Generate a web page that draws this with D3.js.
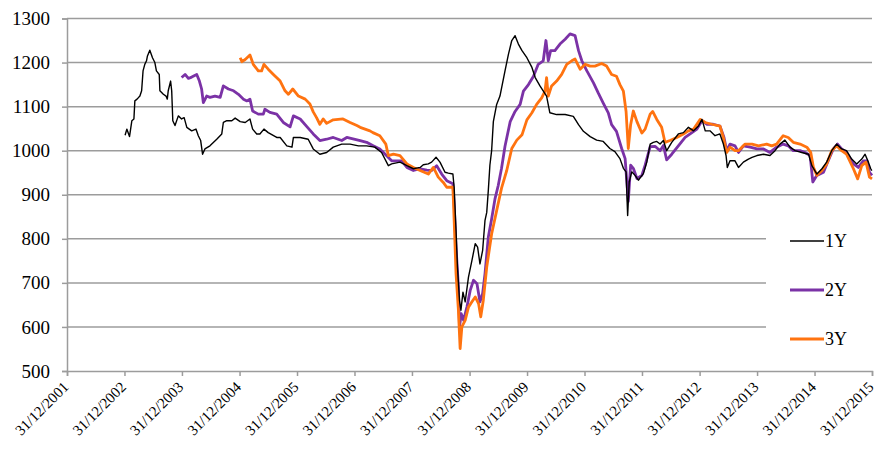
<!DOCTYPE html>
<html>
<head>
<meta charset="utf-8">
<script src="https://cdn.jsdelivr.net/npm/d3@7"></script>
<style>
  body { margin: 0; background: #fff; }
  svg { display: block; font-family: "Liberation Serif", "Times New Roman", serif; }
</style>
</head>
<body>
<div id="chart"></div>
<script>
// Séries : [date, valeur]
const serie1Y = [
  ["2003-01-04",1035],["2003-01-15",1049],["2003-02-01",1032],["2003-02-16",1068],["2003-03-01",1072],
  ["2003-03-07",1113],["2003-03-21",1117],["2003-04-08",1124],["2003-04-19",1136],["2003-04-28",1181],
  ["2003-05-09",1196],["2003-05-20",1204],["2003-05-26",1215],["2003-06-10",1228],["2003-06-27",1211],
  ["2003-07-12",1200],["2003-07-22",1181],["2003-08-09",1173],["2003-08-13",1136],["2003-09-04",1128],
  ["2003-09-21",1124],["2003-09-29",1117],["2003-10-05",1136],["2003-10-20",1158],["2003-10-27",1136],
  ["2003-11-03",1068],["2003-11-17",1057],["2003-12-08",1079],["2003-12-29",1072],["2004-01-14",1075],
  ["2004-01-31",1053],["2004-03-02",1045],["2004-03-29",1049],["2004-04-13",1034],["2004-04-28",1023],
  ["2004-05-10",992],["2004-05-25",1004],["2004-06-26",1011],["2004-08-08",1026],["2004-09-09",1038],
  ["2004-09-19",1064],["2004-10-11",1068],["2004-11-12",1068],["2004-12-03",1074],["2005-01-04",1066],
  ["2005-02-05",1064],["2005-03-07",1072],["2005-03-24",1049],["2005-04-19",1038],["2005-05-09",1038],
  ["2005-06-04",1049],["2005-07-01",1041],["2005-08-24",1030],["2005-09-15",1030],["2005-10-27",1011],
  ["2005-11-29",1008],["2005-12-08",1030],["2006-01-20",1030],["2006-03-12",1026],["2006-04-13",1004],
  ["2006-05-25",992],["2006-07-07",996],["2006-08-18",1008],["2006-10-11",1015],["2006-12-03",1015],
  ["2007-01-25",1011],["2007-03-18",1011],["2007-05-09",1008],["2007-06-21",996],["2007-08-03",966],
  ["2007-08-24",970],["2007-10-16",974],["2007-11-29",966],["2008-01-09",959],["2008-02-21",962],
  ["2008-03-12",968],["2008-04-13",970],["2008-05-04",974],["2008-06-01",985],["2008-06-26",974],
  ["2008-07-28",951],["2008-08-18",949],["2008-09-16",947],["2008-09-24",917],["2008-10-06",819],
  ["2008-10-15",736],["2008-10-28",660],["2008-11-06",638],["2008-11-19",679],["2008-12-03",657],
  ["2008-12-24",713],["2009-01-15",751],["2009-02-05",789],["2009-02-20",781],["2009-03-07",743],
  ["2009-03-24",774],["2009-04-08",842],["2009-04-19",860],["2009-04-29",910],["2009-05-09",967],
  ["2009-05-20",1000],["2009-05-31",1066],["2009-06-21",1105],["2009-07-12",1124],["2009-08-13",1181],
  ["2009-09-04",1219],["2009-09-25",1250],["2009-10-16",1261],["2009-11-06",1242],["2009-11-29",1227],
  ["2009-12-30",1211],["2010-01-31",1189],["2010-02-21",1166],["2010-03-23",1147],["2010-05-04",1124],
  ["2010-05-25",1086],["2010-07-07",1082],["2010-08-30",1082],["2010-10-21",1078],["2010-11-23",1059],
  ["2010-12-24",1044],["2011-02-05",1032],["2011-03-18",1024],["2011-04-29",1021],["2011-06-10",1005],
  ["2011-07-12",998],["2011-08-13",982],["2011-09-04",960],["2011-09-21",952],["2011-10-01",853],
  ["2011-10-11",929],["2011-10-27",952],["2011-11-17",944],["2011-12-08",933],["2012-01-09",948],
  ["2012-01-31",975],["2012-02-21",1015],["2012-03-12",1019],["2012-04-03",1021],["2012-04-24",1015],
  ["2012-05-15",1023],["2012-06-05",1000],["2012-07-07",1019],["2012-08-18",1038],["2012-09-19",1041],
  ["2012-10-21",1053],["2012-11-23",1045],["2012-12-24",1056],["2013-01-15",1071],["2013-02-05",1045],
  ["2013-03-07",1045],["2013-04-08",1034],["2013-05-09",1038],["2013-05-31",1015],["2013-06-17",989],
  ["2013-06-25",962],["2013-07-12",977],["2013-08-13",977],["2013-09-04",962],["2013-10-05",974],
  ["2013-11-06",981],["2013-11-29",985],["2013-12-30",989],["2014-02-10",992],["2014-03-23",989],
  ["2014-04-24",1000],["2014-05-25",1015],["2014-06-26",1024],["2014-07-28",1008],["2014-08-30",1000],
  ["2014-10-11",996],["2014-11-23",992],["2014-12-14",966],["2015-01-15",947],["2015-02-16",959],
  ["2015-03-18",974],["2015-04-19",1000],["2015-05-20",1015],["2015-06-21",1004],["2015-07-22",1000],
  ["2015-08-24",981],["2015-09-25",970],["2015-10-27",981],["2015-11-17",992],["2015-12-08",974],
  ["2015-12-23",959],["2015-12-30",955]
];

const serie2Y = [
  ["2003-12-29",1166],["2004-01-20",1173],["2004-02-10",1164],["2004-03-02",1167],["2004-04-03",1173],
  ["2004-04-20",1158],["2004-05-04",1140],["2004-05-15",1109],["2004-06-05",1124],["2004-06-26",1121],
  ["2004-07-28",1124],["2004-08-30",1121],["2004-09-19",1147],["2004-10-21",1140],["2004-11-23",1136],
  ["2004-12-24",1128],["2005-01-25",1117],["2005-02-16",1113],["2005-03-07",1117],["2005-03-24",1090],
  ["2005-04-29",1083],["2005-05-31",1083],["2005-06-10",1094],["2005-07-12",1087],["2005-08-24",1083],
  ["2005-10-05",1064],["2005-11-17",1054],["2005-12-08",1079],["2006-01-20",1072],["2006-03-02",1055],
  ["2006-04-13",1038],["2006-05-25",1023],["2006-07-07",1026],["2006-08-18",1030],["2006-10-11",1023],
  ["2006-11-12",1030],["2007-02-05",1023],["2007-03-18",1019],["2007-04-29",1011],["2007-06-10",1004],
  ["2007-07-22",989],["2007-08-24",977],["2007-09-25",977],["2007-10-27",977],["2007-11-29",962],
  ["2008-01-09",955],["2008-02-21",959],["2008-04-03",956],["2008-05-04",955],["2008-06-05",966],
  ["2008-07-07",947],["2008-08-08",932],["2008-09-16",925],["2008-09-24",879],["2008-10-06",781],
  ["2008-10-21",691],["2008-10-28",600],["2008-11-08",630],["2008-11-23",615],["2008-12-14",645],
  ["2009-01-04",683],["2009-01-25",706],["2009-02-16",698],["2009-03-07",657],["2009-03-24",676],
  ["2009-04-08",721],["2009-04-29",804],["2009-05-20",845],["2009-06-10",890],["2009-07-01",921],
  ["2009-07-22",960],["2009-08-13",1010],["2009-09-15",1066],["2009-10-16",1089],["2009-11-17",1105],
  ["2009-12-08",1135],["2010-01-09",1150],["2010-02-10",1169],["2010-03-12",1196],["2010-04-13",1204],
  ["2010-04-30",1250],["2010-05-15",1204],["2010-05-30",1227],["2010-06-26",1227],["2010-07-28",1242],
  ["2010-08-30",1253],["2010-09-30",1265],["2010-11-01",1261],["2010-11-23",1227],["2010-12-14",1204],
  ["2011-01-15",1181],["2011-02-26",1154],["2011-03-28",1131],["2011-04-29",1108],["2011-05-31",1086],
  ["2011-06-21",1059],["2011-07-22",1044],["2011-08-24",1005],["2011-09-15",982],["2011-10-05",885],
  ["2011-10-20",967],["2011-11-06",960],["2011-11-29",937],["2011-12-30",944],["2012-01-20",967],
  ["2012-02-21",1009],["2012-03-23",1010],["2012-04-24",1000],["2012-05-15",1012],["2012-06-05",979],
  ["2012-07-07",992],["2012-08-18",1011],["2012-09-30",1030],["2012-11-01",1038],["2012-12-14",1049],
  ["2013-01-15",1068],["2013-02-16",1060],["2013-03-28",1060],["2013-05-09",1056],["2013-06-04",1030],
  ["2013-06-21",1000],["2013-07-12",1015],["2013-08-13",1011],["2013-09-04",996],["2013-10-05",1011],
  ["2013-11-17",1008],["2013-12-30",1004],["2014-02-10",1004],["2014-03-23",996],["2014-05-04",1008],
  ["2014-06-15",1015],["2014-07-17",1011],["2014-08-18",1000],["2014-09-30",1000],["2014-11-01",996],
  ["2014-12-03",989],["2014-12-20",929],["2015-01-15",944],["2015-02-26",951],["2015-03-28",977],
  ["2015-04-29",1004],["2015-05-26",1015],["2015-06-21",1004],["2015-07-22",996],["2015-09-04",970],
  ["2015-10-05",962],["2015-11-06",977],["2015-11-29",977],["2015-12-15",951],["2015-12-31",944]
];

const serie3Y = [
  ["2005-01-04",1211],["2005-01-15",1202],["2005-02-05",1207],["2005-03-07",1217],["2005-03-28",1196],
  ["2005-04-29",1181],["2005-05-20",1181],["2005-06-04",1196],["2005-07-01",1185],["2005-08-03",1173],
  ["2005-09-15",1158],["2005-10-16",1136],["2005-11-06",1128],["2005-12-04",1140],["2006-01-09",1124],
  ["2006-02-21",1117],["2006-03-23",1106],["2006-04-13",1088],["2006-05-04",1075],["2006-05-25",1060],
  ["2006-06-15",1072],["2006-07-07",1062],["2006-08-18",1070],["2006-10-19",1072],["2006-12-03",1064],
  ["2007-01-15",1057],["2007-02-05",1053],["2007-04-08",1045],["2007-04-27",1041],["2007-06-10",1034],
  ["2007-07-18",1015],["2007-08-03",989],["2007-09-04",992],["2007-10-16",989],["2007-11-29",970],
  ["2008-01-09",962],["2008-02-21",955],["2008-04-13",947],["2008-05-15",962],["2008-06-15",940],
  ["2008-07-17",928],["2008-08-08",917],["2008-09-16",917],["2008-09-24",842],["2008-10-06",721],
  ["2008-10-21",638],["2008-11-01",551],["2008-11-12",600],["2008-12-03",615],["2008-12-24",645],
  ["2009-01-15",657],["2009-02-05",668],["2009-02-26",653],["2009-03-12",623],["2009-03-28",660],
  ["2009-04-19",736],["2009-05-20",811],["2009-06-21",864],["2009-07-22",915],["2009-08-24",955],
  ["2009-09-25",1005],["2009-10-27",1024],["2009-11-29",1036],["2009-12-30",1070],["2010-01-31",1086],
  ["2010-03-02",1105],["2010-04-03",1120],["2010-04-24",1135],["2010-05-04",1166],["2010-05-15",1124],
  ["2010-06-05",1147],["2010-07-07",1158],["2010-08-08",1173],["2010-09-09",1196],["2010-10-11",1204],
  ["2010-11-01",1208],["2010-12-03",1185],["2011-01-04",1196],["2011-02-05",1192],["2011-03-07",1192],
  ["2011-04-19",1198],["2011-05-20",1192],["2011-06-21",1173],["2011-07-22",1169],["2011-08-13",1150],
  ["2011-09-04",1135],["2011-09-21",1089],["2011-10-05",1005],["2011-10-20",1059],["2011-11-06",1090],
  ["2011-11-29",1066],["2011-12-30",1040],["2012-01-20",1049],["2012-02-21",1083],["2012-03-08",1089],
  ["2012-04-03",1071],["2012-05-04",1053],["2012-05-25",1019],["2012-06-26",1023],["2012-08-08",1030],
  ["2012-09-19",1038],["2012-10-21",1045],["2012-11-23",1049],["2013-01-04",1071],["2013-02-05",1064],
  ["2013-03-18",1060],["2013-05-09",1056],["2013-05-31",1030],["2013-06-21",996],["2013-07-12",1008],
  ["2013-08-13",1000],["2013-09-04",1000],["2013-10-16",1015],["2013-11-29",1015],["2014-01-09",1011],
  ["2014-03-02",1015],["2014-04-03",1011],["2014-05-04",1015],["2014-06-15",1034],["2014-07-17",1030],
  ["2014-08-18",1019],["2014-09-30",1015],["2014-11-12",1008],["2014-12-07",996],["2014-12-24",962],
  ["2015-01-15",944],["2015-02-16",955],["2015-03-18",970],["2015-04-19",1000],["2015-05-20",1011],
  ["2015-06-21",1000],["2015-07-22",992],["2015-09-04",959],["2015-10-01",936],["2015-10-27",966],
  ["2015-11-23",974],["2015-12-15",940],["2015-12-31",936]
];

const seriesNames = ["1Y", "2Y", "3Y"];
const yTicks = [500, 600, 700, 800, 900, 1000, 1100, 1200, 1300];
const xTickDates = ["2001-12-31","2002-12-31","2003-12-31","2004-12-31","2005-12-31","2006-12-31","2007-12-31",
  "2008-12-31","2009-12-31","2010-12-31","2011-12-31","2012-12-31","2013-12-31","2014-12-31","2015-12-31"];

(function() {
    const W = 876, H = 450;
    const margin = { top: 18.5, right: 4, bottom: 79, left: 67 },
        width = W - margin.left - margin.right,
        height = H - margin.top - margin.bottom;

    const parse = d3.timeParse("%Y-%m-%d");
    const fmt = d3.timeFormat("%d/%m/%Y");

    const svg = d3.select("#chart").append("svg")
        .attr("width", W)
        .attr("height", H);

    const g = svg.append("g")
        .attr("transform", `translate(${margin.left},${margin.top})`);

    const x = d3.scaleTime()
        .domain([parse(xTickDates[0]), parse(xTickDates[xTickDates.length - 1])])
        .range([0, width]);

    const y = d3.scaleLinear()
        .domain([500, 1300])
        .range([height, 0]);

    // Grille horizontale
    g.append("g")
        .selectAll("line")
        .data(yTicks.slice(1))
        .enter().append("line")
        .attr("x1", 0)
        .attr("x2", width)
        .attr("y1", d => y(d))
        .attr("y2", d => y(d))
        .attr("stroke", "#9c9c9c")
        .attr("stroke-width", 1.5);

    // Axe Y
    const yAxis = g.append("g")
        .call(d3.axisLeft(y).tickValues(yTicks).tickSize(5).tickPadding(12).tickFormat(d3.format("d")));
    yAxis.select(".domain").attr("stroke", "#9c9c9c").attr("stroke-width", 1.5);
    yAxis.selectAll(".tick line").attr("stroke", "#9c9c9c").attr("stroke-width", 1.5);
    yAxis.selectAll("text")
        .attr("fill", "#000")
        .style("font-family", "Liberation Serif, Times New Roman, serif")
        .style("font-size", "19px");

    // Lignes des séries
    const line = d3.line()
        .x(d => x(parse(d[0])))
        .y(d => y(d[1]));

    const series = [
        { name: seriesNames[1], data: serie2Y, color: "#7B32A6", w: 2.8 },
        { name: seriesNames[2], data: serie3Y, color: "#FF7310", w: 2.8 },
        { name: seriesNames[0], data: serie1Y, color: "#000000", w: 1.4 }
    ];

    series.forEach(s => {
        g.append("path")
            .datum(s.data)
            .attr("fill", "none")
            .attr("stroke", s.color)
            .attr("stroke-width", s.w)
            .attr("stroke-linejoin", "round")
            .attr("d", line);
    });

    // Axe X
    const xAxis = g.append("g")
        .attr("transform", `translate(0,${height})`)
        .call(d3.axisBottom(x).tickValues(xTickDates.map(parse)).tickSize(5).tickFormat(fmt));
    xAxis.select(".domain").attr("stroke", "#9c9c9c").attr("stroke-width", 1.5);
    xAxis.selectAll(".tick line").attr("stroke", "#9c9c9c").attr("stroke-width", 1.5);
    xAxis.selectAll("text")
        .attr("fill", "#000")
        .style("font-family", "Liberation Serif, Times New Roman, serif")
        .style("font-size", "15px")
        .style("text-anchor", "end")
        .attr("x", 2)
        .attr("y", 17)
        .attr("dy", 0)
        .attr("transform", "rotate(-45, 2, 17)");

    // Légende
    const legendColors = ["#000000", "#7B32A6", "#FF7310"];
    const legendWidths = [1.4, 2.8, 2.8];
    g.append("rect")
        .attr("x", 699)
        .attr("y", 196)
        .attr("width", width - 699 + 2)
        .attr("height", 148)
        .attr("fill", "#fff");

    const legend = g.selectAll(".legend")
        .data(seriesNames)
        .enter().append("g")
        .attr("class", "legend")
        .attr("transform", (d, i) => `translate(723,${222.5 + i * 49})`);

    legend.append("line")
        .attr("x1", 0)
        .attr("x2", 34)
        .attr("stroke", (d, i) => legendColors[i])
        .attr("stroke-width", (d, i) => legendWidths[i]);

    legend.append("text")
        .attr("x", 35)
        .attr("y", 6)
        .style("font-size", "18px")
        .attr("fill", "#000")
        .text(d => d);
})();
</script>
</body>
</html>
